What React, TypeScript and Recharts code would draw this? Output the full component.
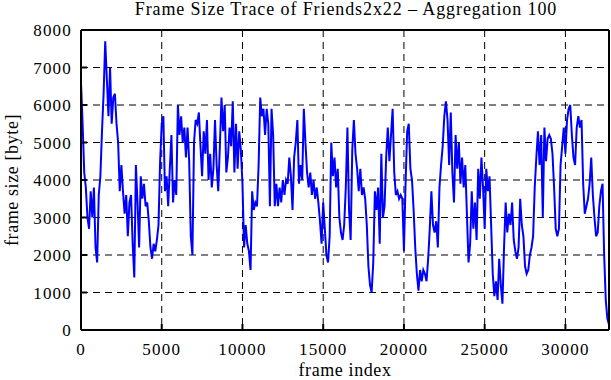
import { LineChart, Line, XAxis, YAxis, CartesianGrid } from 'recharts';

// frame size per 100-frame bucket
const frameSizes: number[] = [
  6600, 5500, 4200, 3800, 3000, 2700, 3700, 3000, 3800, 2200, 1800, 3600, 4100, 5300, 6300, 7700, 6700, 5700, 7000, 5500,
  6200, 6300, 5500, 5000, 3700, 4400, 3700, 3100, 3600, 2500, 3400, 3600, 2300, 1400, 4400, 3400, 2200, 4100, 3500, 3900,
  3300, 3400, 2900, 2200, 1900, 2300, 2100, 2400, 2800, 4500, 5500, 5700, 3700, 4100, 3300, 4300, 5200, 3400, 4000, 3600,
  6000, 5200, 5700, 5000, 5400, 4600, 5400, 4500, 2500, 2000, 5000, 5600, 5500, 5800, 4900, 4100, 5300, 4700, 5600, 4000,
  4700, 3800, 4300, 5600, 4400, 3700, 4900, 6200, 5300, 6000, 4200, 4600, 5400, 4900, 6100, 4200, 5500, 4300, 5300, 4800,
  3900, 2200, 2800, 2300, 2100, 1600, 3700, 3200, 3400, 3300, 4400, 6200, 5700, 5900, 5200, 5900, 5500, 3300, 5900, 5200,
  3300, 3900, 3300, 3800, 3400, 4000, 3600, 4000, 3900, 4600, 4100, 3200, 4600, 5000, 5600, 3900, 4400, 4000, 5900, 5000,
  4200, 3800, 4200, 3600, 4000, 3500, 3800, 3400, 2900, 2300, 3400, 2700, 2000, 1800, 2500, 5000, 4100, 4600, 3800, 4300,
  3000, 2600, 2400, 2800, 3800, 5400, 3200, 2400, 4800, 5600, 4700, 4300, 3700, 4300, 3600, 3800, 3500, 2800, 1700, 1200,
  1000, 1800, 3700, 3200, 3800, 2300, 4700, 3000, 3300, 4600, 5400, 4500, 5200, 5900, 4200, 3600, 3700, 3500, 3600, 3500,
  2100, 3900, 5300, 5500, 4300, 4000, 3200, 2200, 1500, 1050, 1600, 1300, 1600, 1500, 1300, 1900, 2700, 3700, 2800, 2600,
  2900, 2200, 3800, 4400, 4900, 5700, 6100, 5600, 4400, 5800, 4200, 3400, 5200, 4300, 5000, 3900, 4600, 3800, 4400, 3100,
  1800, 2300, 3700, 2700, 3400, 2400, 4300, 3500, 4600, 3800, 2700, 4300, 3700, 4100, 2800, 1500, 900, 1300, 800, 1900,
  1200, 700, 2200, 3400, 2600, 3100, 2800, 3400, 2400, 2100, 1900, 2200, 3500, 2800, 2500, 1700, 1500, 1600, 2000, 2200,
  2500, 3800, 4600, 5300, 4400, 5200, 3000, 5400, 4500, 5100, 5200, 5100, 4700, 3800, 2700, 2500, 2700, 4400, 4900, 5400,
  4700, 5600, 5900, 6000, 5200, 4600, 4400, 5400, 5700, 5400, 5600, 3900, 3100, 3300, 3500, 3900, 4600, 3600, 3000, 2500,
  2600, 3300, 3700, 3900, 2000, 800, 300, 150,
];

const AGGREGATION = 100;
const xTicks = [0, 5000, 10000, 15000, 20000, 25000, 30000];
const yTicks = [0, 1000, 2000, 3000, 4000, 5000, 6000, 7000, 8000];

const data = frameSizes.map((size, i) => ({ frame: i * AGGREGATION, size }));

const FONT = '"Liberation Serif", "Times New Roman", serif';
const tickStyle = { fontFamily: FONT, fontSize: 17, fill: '#000', letterSpacing: 1.2 };
const labelStyle = { fontFamily: FONT, fontSize: 18, fill: '#000', letterSpacing: 0.6 };

const App = () => {
  return (
    <div style={{ position: 'absolute', left: 0, top: 0, width: 611, height: 380, background: '#fff' }}>
      <div
        style={{
          position: 'absolute',
          left: 0,
          top: -1,
          width: 692,
          textAlign: 'center',
          fontFamily: FONT,
          fontSize: 18,
          letterSpacing: 0.9,
          lineHeight: '20px',
        }}
      >
        Frame Size Trace of Friends2x22 – Aggregation 100
      </div>
      <LineChart width={611} height={380} data={data} margin={{ top: 29, right: 1, bottom: 0, left: 0 }}>
        <CartesianGrid stroke="#000" strokeDasharray="7 5" xAxisId="bottom" yAxisId="left" />
        <XAxis
          xAxisId="bottom"
          dataKey="frame"
          type="number"
          domain={[0, 32700]}
          ticks={xTicks}
          height={50}
          tickSize={-6}
          tickMargin={19}
          tick={tickStyle}
          axisLine={{ stroke: '#000', strokeWidth: 2 }}
          tickLine={{ stroke: '#000', strokeWidth: 2 }}
          label={{ value: 'frame index', position: 'insideBottom', offset: 4, style: labelStyle }}
        />
        <XAxis
          xAxisId="top"
          orientation="top"
          dataKey="frame"
          type="number"
          domain={[0, 32700]}
          ticks={xTicks}
          height={1}
          tickSize={-6}
          tick={false}
          axisLine={{ stroke: '#000', strokeWidth: 2 }}
          tickLine={{ stroke: '#000', strokeWidth: 2 }}
        />
        <YAxis
          yAxisId="left"
          type="number"
          domain={[0, 8000]}
          ticks={yTicks}
          width={81}
          tickSize={-6}
          tickMargin={15}
          tick={tickStyle}
          axisLine={{ stroke: '#000', strokeWidth: 2 }}
          tickLine={{ stroke: '#000', strokeWidth: 2 }}
          label={{
            value: 'frame size [byte]',
            angle: -90,
            position: 'insideLeft',
            offset: 12,
            style: { ...labelStyle, textAnchor: 'middle' },
          }}
        />
        <YAxis
          yAxisId="right"
          orientation="right"
          type="number"
          domain={[0, 8000]}
          ticks={yTicks}
          width={1}
          tickSize={-6}
          tick={false}
          axisLine={{ stroke: '#000', strokeWidth: 2 }}
          tickLine={{ stroke: '#000', strokeWidth: 2 }}
        />
        <Line
          xAxisId="bottom"
          yAxisId="left"
          type="linear"
          dataKey="size"
          stroke="#0000ff"
          strokeWidth={2}
          dot={false}
          isAnimationActive={false}
        />
      </LineChart>
    </div>
  );
};

export default App;
